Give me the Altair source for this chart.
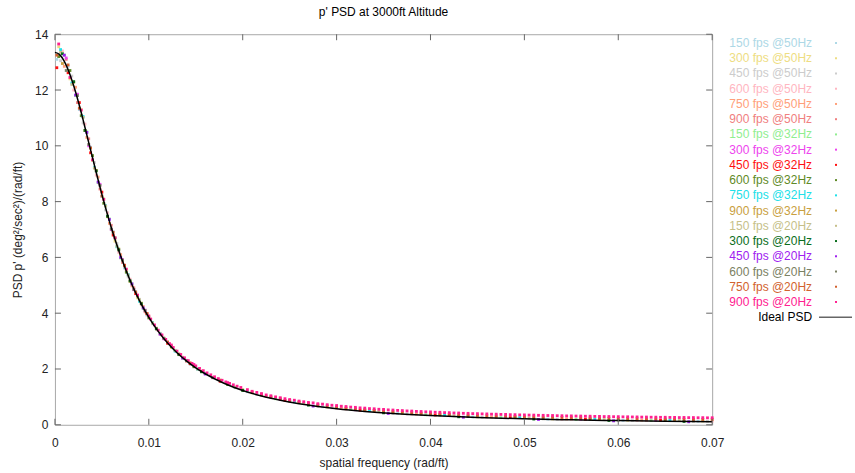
import altair as alt
import pandas as pd

TITLE = "p' PSD at 3000ft Altitude"
X_TITLE = "spatial frequency (rad/ft)"
Y_TITLE = "PSD p' (deg²/sec²)/(rad/ft)"
X_TICKS = [0, 0.01, 0.02, 0.03, 0.04, 0.05, 0.06, 0.07]
Y_TICKS = [0, 2, 4, 6, 8, 10, 12, 14]

SERIES = [
    "150 fps @50Hz", "300 fps @50Hz", "450 fps @50Hz", "600 fps @50Hz", "750 fps @50Hz", "900 fps @50Hz",
    "150 fps @32Hz", "300 fps @32Hz", "450 fps @32Hz", "600 fps @32Hz", "750 fps @32Hz", "900 fps @32Hz",
    "150 fps @20Hz", "300 fps @20Hz", "450 fps @20Hz", "600 fps @20Hz", "750 fps @20Hz", "900 fps @20Hz",
]
COLORS = [
    "#add8e6", "#eedd82", "#cccccc", "#ffb6c1", "#ffa07a", "#f08080",
    "#90ee90", "#ee44ee", "#ff1010", "#5f8a26", "#20e0e8", "#c9a040",
    "#c6bf8a", "#0b6e1c", "#a020f0", "#7b8163", "#d2622e", "#ff2090",
]

# ---- steep part (low frequencies): sample positions ----
R0_X = [0.0002, 0.0014, 0.0026, 0.0038, 0.005, 0.0062, 0.0074, 0.0086, 0.0098, 0.012, 0.0144, 0.0176]
R1_X = [0.0004, 0.0016, 0.0028, 0.004, 0.0052, 0.0064, 0.0076, 0.0088, 0.01, 0.0124, 0.0148, 0.0184]
R2_X = [0.0006, 0.0018, 0.003, 0.0042, 0.0054, 0.0066, 0.0078, 0.009, 0.0104, 0.0128, 0.0152, 0.0192]
R3_X = [0.0008, 0.002, 0.0032, 0.0044, 0.0056, 0.0068, 0.008, 0.0092, 0.0108, 0.0132, 0.0156, 0.02]
R4_X = [0.001, 0.0022, 0.0034, 0.0046, 0.0058, 0.007, 0.0082, 0.0094, 0.0112, 0.0136, 0.016]
R5_X = [0.0012, 0.0024, 0.0036, 0.0048, 0.006, 0.0072, 0.0084, 0.0096, 0.0116, 0.014, 0.0168]

# ---- steep part values ----
S_150_50 = [13.10, 12.85, 11.30, 9.95, 8.18, 6.92, 5.62, 4.77, 3.93, 2.95, 2.17, 1.56]
S_300_50 = [13.55, 12.40, 11.30, 9.48, 8.10, 6.58, 5.56, 4.55, 3.88, 2.77, 2.11, 1.44]
S_450_50 = [13.05, 12.50, 10.82, 9.40, 7.70, 6.50, 5.30, 4.50, 3.62, 2.67, 1.99, 1.33]
S_600_50 = [13.40, 12.00, 10.78, 8.95, 7.60, 6.18, 5.22, 4.30, 3.47, 2.51, 1.92, 1.24]
S_750_50 = [12.85, 12.10, 10.30, 8.88, 7.22, 6.10, 4.98, 4.24, 3.25, 2.42, 1.84]
S_900_50 = [13.10, 11.55, 10.25, 8.45, 7.15, 5.82, 4.91, 4.05, 3.11, 2.28, 1.69]
S_150_32 = [13.25, 11.80, 10.50, 8.68, 7.38, 5.98, 5.06, 4.17, 3.28, 2.39, 1.84]
S_300_32 = [13.15, 11.85, 10.00, 8.62, 7.00, 5.92, 4.84, 4.11, 3.08, 2.31, 1.69]
S_450_32 = [12.80, 12.62, 11.55, 9.75, 8.34, 6.80, 5.72, 4.70, 3.98, 2.92, 2.19, 1.56]
S_600_32 = [13.20, 12.70, 11.08, 9.65, 7.94, 6.70, 5.47, 4.62, 3.83, 2.80, 2.08, 1.44]
S_750_32 = [13.45, 12.25, 11.05, 9.22, 7.85, 6.38, 5.38, 4.43, 3.66, 2.64, 2.00, 1.34]
S_900_32 = [12.95, 12.28, 10.55, 9.12, 7.46, 6.30, 5.14, 4.36, 3.44, 2.54, 1.92, 1.25]
S_150_20 = [13.35, 12.20, 11.02, 9.20, 7.84, 6.40, 5.37, 4.48, 3.65, 2.66, 2.00, 1.34]
S_300_20 = [13.30, 12.30, 10.55, 9.10, 7.48, 6.27, 5.16, 4.34, 3.44, 2.52, 1.90, 1.23]
S_450_20 = [13.25, 11.82, 10.48, 8.70, 7.36, 6.00, 5.05, 4.19, 3.25, 2.39, 1.82]
S_600_20 = [12.70, 11.80, 10.05, 8.58, 7.02, 5.90, 4.85, 4.10, 3.10, 2.30, 1.69]
S_750_20 = [13.25, 12.90, 11.35, 9.92, 8.20, 6.90, 5.70, 4.76, 3.99, 2.97, 2.22, 1.60]
S_900_20 = [13.65, 12.45, 11.28, 9.50, 8.08, 6.70, 5.58, 4.65, 3.90, 2.86, 2.16, 1.51]

# extra samples of the top series in the knee region
MX_900_20 = [0.0102, 0.0106, 0.011, 0.0114, 0.0118, 0.0122, 0.0126, 0.013, 0.0134, 0.0138,
             0.0142, 0.0146, 0.015, 0.0154, 0.0158, 0.0162, 0.0166, 0.017, 0.0174, 0.0178,
             0.0182, 0.0186, 0.019, 0.0194, 0.0198]
MY_900_20 = [3.79, 3.58, 3.39, 3.22, 3.06, 2.91, 2.77, 2.64, 2.52, 2.40,
             2.30, 2.20, 2.11, 2.02, 1.94, 1.86, 1.79, 1.72, 1.655, 1.595,
             1.537, 1.483, 1.432, 1.383, 1.337]

# ---- tail (high frequencies) ----
TAIL_X = [0.0205, 0.021, 0.0215, 0.022, 0.0225, 0.023, 0.0235, 0.024, 0.0245, 0.025,
          0.0255, 0.026, 0.0265, 0.027, 0.0275, 0.028, 0.0285, 0.029, 0.0295, 0.03,
          0.0305, 0.031, 0.0315, 0.032, 0.0325, 0.033, 0.0335, 0.034, 0.0345, 0.035,
          0.0355, 0.036, 0.0365, 0.037, 0.0375, 0.038, 0.0385, 0.039, 0.0395, 0.04,
          0.0405, 0.041, 0.0415, 0.042, 0.0425, 0.043, 0.0435, 0.044, 0.0445, 0.045,
          0.0455, 0.046, 0.0465, 0.047, 0.0475, 0.048, 0.0485, 0.049, 0.0495, 0.05,
          0.0505, 0.051, 0.0515, 0.052, 0.0525, 0.053, 0.0535, 0.054, 0.0545, 0.055,
          0.0555, 0.056, 0.0565, 0.057, 0.0575, 0.058, 0.0585, 0.059, 0.0595, 0.06,
          0.0605, 0.061, 0.0615, 0.062, 0.0625, 0.063, 0.0635, 0.064, 0.0645, 0.065,
          0.0655, 0.066, 0.0665, 0.067, 0.0675, 0.068, 0.0685, 0.069, 0.0695, 0.07]
TY_900_20 = [1.26, 1.20, 1.16, 1.12, 1.07, 1.04, 1.00, 0.97, 0.935, 0.905,
             0.88, 0.85, 0.825, 0.80, 0.785, 0.755, 0.74, 0.72, 0.70, 0.69,
             0.665, 0.655, 0.634, 0.625, 0.606, 0.598, 0.58, 0.573, 0.556, 0.55,
             0.534, 0.528, 0.515, 0.509, 0.496, 0.492, 0.48, 0.476, 0.464, 0.462,
             0.450, 0.448, 0.436, 0.434, 0.423, 0.422, 0.411, 0.410, 0.400, 0.399,
             0.390, 0.389, 0.380, 0.380, 0.371, 0.371, 0.362, 0.362, 0.354, 0.354,
             0.347, 0.347, 0.339, 0.339, 0.332, 0.332, 0.325, 0.325, 0.318, 0.319,
             0.312, 0.313, 0.306, 0.307, 0.300, 0.301, 0.294, 0.296, 0.289, 0.291,
             0.284, 0.286, 0.280, 0.281, 0.275, 0.277, 0.271, 0.273, 0.267, 0.269,
             0.263, 0.265, 0.259, 0.262, 0.256, 0.258, 0.252, 0.255, 0.249, 0.252]
TX_750_20 = TAIL_X[1::2]
TY_750_20 = [1.175, 1.083, 1.004, 0.932, 0.87, 0.813, 0.763, 0.717, 0.675, 0.638,
             0.604, 0.573, 0.545, 0.519, 0.495, 0.473, 0.453, 0.435, 0.417, 0.401,
             0.387, 0.373, 0.36, 0.348, 0.337, 0.326, 0.317, 0.307, 0.299, 0.29,
             0.283, 0.275, 0.269, 0.262, 0.257, 0.251, 0.245, 0.239, 0.234, 0.229,
             0.224, 0.219, 0.215, 0.211, 0.207, 0.203, 0.2, 0.196, 0.193, 0.19]

TX_150_50 = [0.0205, 0.0285, 0.0365, 0.0445, 0.0525, 0.0605, 0.0685]
TY_150_50 = [1.185, 0.645, 0.405, 0.278, 0.204, 0.156, 0.124]
TX_300_50 = [0.021, 0.029, 0.037, 0.045, 0.053, 0.061, 0.069]
TY_300_50 = [1.145, 0.634, 0.404, 0.282, 0.21, 0.164, 0.133]
TX_450_50 = [0.0215, 0.0295, 0.0375, 0.0455, 0.0535, 0.0615, 0.0695]
TY_450_50 = [1.087, 0.605, 0.384, 0.267, 0.197, 0.152, 0.121]
TX_600_50 = [0.022, 0.03, 0.038, 0.046, 0.054, 0.062, 0.07]
TY_600_50 = [1.052, 0.596, 0.385, 0.271, 0.203, 0.159, 0.13]
TX_750_50 = [0.0225, 0.0305, 0.0385, 0.0465, 0.0545, 0.0625]
TY_750_50 = [1.02, 0.588, 0.386, 0.276, 0.21, 0.167]
TX_900_50 = [0.023, 0.031, 0.039, 0.047, 0.055, 0.063]
TY_900_50 = [0.981, 0.571, 0.377, 0.271, 0.207, 0.165]
TX_150_32 = [0.0235, 0.0315, 0.0395, 0.0475, 0.0555, 0.0635]
TY_150_32 = [0.934, 0.544, 0.358, 0.256, 0.194, 0.153]
TX_300_32 = [0.024, 0.032, 0.04, 0.048, 0.056, 0.064]
TY_300_32 = [0.908, 0.539, 0.36, 0.261, 0.201, 0.161]
TX_450_32 = [0.0245, 0.0325, 0.0405, 0.0485, 0.0565, 0.0645]
TY_450_32 = [0.875, 0.524, 0.352, 0.256, 0.198, 0.159]
TX_600_32 = [0.025, 0.033, 0.041, 0.049, 0.057, 0.065]
TY_600_32 = [0.854, 0.52, 0.355, 0.262, 0.205, 0.167]
TX_750_32 = [0.0255, 0.0335, 0.0415, 0.0495, 0.0575, 0.0655]
TY_750_32 = [0.824, 0.506, 0.347, 0.257, 0.202, 0.165]
TX_900_32 = [0.026, 0.034, 0.042, 0.05, 0.058, 0.066]
TY_900_32 = [0.806, 0.503, 0.35, 0.263, 0.209, 0.173]
TX_150_20 = [0.0265, 0.0345, 0.0425, 0.0505, 0.0585, 0.0665]
TY_150_20 = [0.759, 0.47, 0.323, 0.239, 0.186, 0.151]
TX_300_20 = [0.027, 0.035, 0.043, 0.051, 0.059, 0.067]
TY_300_20 = [0.704, 0.428, 0.287, 0.205, 0.154, 0.12]
TX_450_20 = [0.0275, 0.0355, 0.0435, 0.0515, 0.0595, 0.0675]
TY_450_20 = [0.67, 0.406, 0.27, 0.191, 0.141, 0.108]
TX_600_20 = [0.028, 0.036, 0.044, 0.052, 0.06, 0.068]
TY_600_20 = [0.677, 0.425, 0.294, 0.217, 0.169, 0.136]

IDEAL_X = [0, 0.0005, 0.001, 0.0015, 0.002, 0.0025, 0.003, 0.0035, 0.004, 0.0045, 0.005, 0.0055,
           0.006, 0.0065, 0.007, 0.008, 0.009, 0.010, 0.011, 0.012, 0.013, 0.014, 0.015, 0.016,
           0.018, 0.020, 0.022, 0.024, 0.026, 0.028, 0.030, 0.033, 0.036, 0.040, 0.045, 0.050,
           0.055, 0.060, 0.065, 0.070]
IDEAL_Y = [13.35, 13.27, 13.03, 12.65, 12.15, 11.57, 10.93, 10.25, 9.58, 8.91, 8.26, 7.65,
           7.07, 6.54, 6.05, 5.18, 4.45, 3.85, 3.35, 2.93, 2.58, 2.29, 2.04, 1.83,
           1.49, 1.23, 1.03, 0.878, 0.756, 0.657, 0.576, 0.480, 0.405, 0.330, 0.262, 0.213,
           0.177, 0.149, 0.127, 0.110]

SERIES_DATA = [
    (R0_X + TX_150_50, S_150_50 + TY_150_50),
    (R1_X + TX_300_50, S_300_50 + TY_300_50),
    (R2_X + TX_450_50, S_450_50 + TY_450_50),
    (R3_X + TX_600_50, S_600_50 + TY_600_50),
    (R4_X + TX_750_50, S_750_50 + TY_750_50),
    (R5_X + TX_900_50, S_900_50 + TY_900_50),
    (R4_X + TX_150_32, S_150_32 + TY_150_32),
    (R5_X + TX_300_32, S_300_32 + TY_300_32),
    (R0_X + TX_450_32, S_450_32 + TY_450_32),
    (R1_X + TX_600_32, S_600_32 + TY_600_32),
    (R2_X + TX_750_32, S_750_32 + TY_750_32),
    (R3_X + TX_900_32, S_900_32 + TY_900_32),
    (R2_X + TX_150_20, S_150_20 + TY_150_20),
    (R3_X + TX_300_20, S_300_20 + TY_300_20),
    (R4_X + TX_450_20, S_450_20 + TY_450_20),
    (R5_X + TX_600_20, S_600_20 + TY_600_20),
    (R0_X + TX_750_20, S_750_20 + TY_750_20),
    (R1_X + MX_900_20 + TAIL_X, S_900_20 + MY_900_20 + TY_900_20),
]

rows = []
for name, (xs_, ys_) in zip(SERIES, SERIES_DATA):
    assert len(xs_) == len(ys_), (name, len(xs_), len(ys_))
    for xv, yv in zip(xs_, ys_):
        rows.append({"series": name, "x": xv, "y": yv})
df = pd.DataFrame(rows)
ideal_df = pd.DataFrame({"x": IDEAL_X, "y": IDEAL_Y})
xt_df = pd.DataFrame({"x": X_TICKS})
yt_df = pd.DataFrame({"y": Y_TICKS})
leg_df = pd.DataFrame({"series": SERIES, "row": list(range(len(SERIES)))})
ideal_leg_df = pd.DataFrame({"label": ["Ideal PSD"], "row": [len(SERIES)]})

FONT = "Liberation Sans"
W, H = 658, 391
TICK_COLOR = "#666666"

xs = alt.Scale(domain=[0, 0.07], nice=False, zero=False)
ys = alt.Scale(domain=[0, 14], nice=False, zero=False)
cs = alt.Scale(domain=SERIES, range=COLORS)

x_axis = alt.Axis(values=X_TICKS, format="~g", ticks=False, domain=False, grid=False,
                  labelPadding=13, titleY=38, titleBaseline="middle", labelFlush=False,
                  labelFont=FONT, labelFontSize=12, labelColor="#222222",
                  titleFont=FONT, titleFontSize=12, titleFontWeight="normal", titleColor="#222222")
y_axis = alt.Axis(values=Y_TICKS, format="d", ticks=False, domain=False, grid=False,
                  labelPadding=7, titleX=-37, titleY=H / 2, titleAngle=270, titleAlign="center",
                  titleBaseline="middle", labelFlush=False,
                  labelFont=FONT, labelFontSize=12, labelColor="#222222",
                  titleFont=FONT, titleFontSize=12, titleFontWeight="normal", titleColor="#222222")

def X(field):
    return alt.X(field, type="quantitative", scale=xs, axis=x_axis, title=X_TITLE)

def Y(field):
    return alt.Y(field, type="quantitative", scale=ys, axis=y_axis, title=Y_TITLE)

dots = alt.Chart(df).mark_square(size=8, opacity=1).encode(
    x=X("x"), y=Y("y"),
    color=alt.Color("series:N", scale=cs, legend=None),
)

ideal = alt.Chart(ideal_df).mark_line(color="black", strokeWidth=1.5, interpolate="monotone").encode(
    x=X("x"), y=Y("y"),
)

tick_bottom = alt.Chart(xt_df).mark_rule(color=TICK_COLOR).encode(
    x=X("x"), y=alt.value(H), y2=alt.value(H - 6))
tick_top = alt.Chart(xt_df).mark_rule(color=TICK_COLOR).encode(
    x=X("x"), y=alt.value(0), y2=alt.value(6))
tick_left = alt.Chart(yt_df).mark_rule(color=TICK_COLOR).encode(
    y=Y("y"), x=alt.value(0), x2=alt.value(6))
tick_right = alt.Chart(yt_df).mark_rule(color=TICK_COLOR).encode(
    y=Y("y"), x=alt.value(W - 6), x2=alt.value(W))

main = alt.layer(dots, ideal, tick_bottom, tick_top, tick_left, tick_right).properties(
    width=W, height=H,
    title=alt.TitleParams(TITLE, font=FONT, fontSize=12, fontWeight="normal", anchor="middle",
                          offset=9, color="black"),
)

LW = 143
row_scale = alt.Scale(domain=[0, 18], range=[8.8, 283.3])
leg_text = alt.Chart(leg_df).mark_text(align="right", baseline="middle", font=FONT, fontSize=12).encode(
    x=alt.value(100), y=alt.Y("row:Q", scale=row_scale, axis=None),
    color=alt.Color("series:N", scale=cs, legend=None), text="series:N")
leg_dots = alt.Chart(leg_df).mark_square(size=4, opacity=1).encode(
    x=alt.value(124), y=alt.Y("row:Q", scale=row_scale, axis=None),
    color=alt.Color("series:N", scale=cs, legend=None))
ideal_text = alt.Chart(ideal_leg_df).mark_text(align="right", baseline="middle", font=FONT, fontSize=12,
                                               color="black").encode(
    x=alt.value(100), y=alt.Y("row:Q", scale=row_scale, axis=None), text="label:N")
ideal_rule = alt.Chart(ideal_leg_df).mark_rule(color="#666666", strokeWidth=1.5).encode(
    x=alt.value(107), x2=alt.value(140), y=alt.Y("row:Q", scale=row_scale, axis=None))

legend = alt.layer(leg_text, leg_dots, ideal_text, ideal_rule).properties(
    width=LW, height=H, view=alt.ViewBackground(strokeOpacity=0, strokeWidth=0))

chart = alt.hconcat(main, legend, spacing=0, bounds="flush").properties(
    padding={"left": 11, "top": 5, "right": 0, "bottom": 0},
    background="white",
).configure_view(stroke="#a8a8a8", strokeWidth=1)

chart.save("out.html", embed_options={"renderer": "svg", "actions": False})
